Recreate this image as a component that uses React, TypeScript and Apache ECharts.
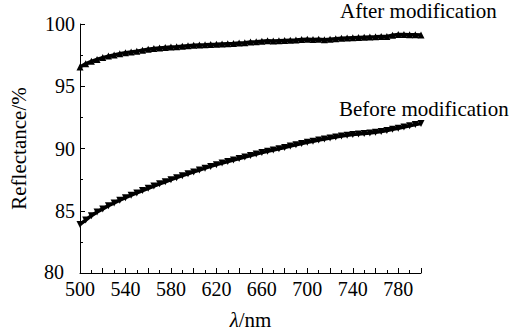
import React, { useEffect, useRef } from "react";
import * as echarts from "echarts";

const wavelengths = [
  500, 505, 510, 515, 520, 525, 530, 535, 540, 545, 550, 555, 560, 565, 570, 575,
  580, 585, 590, 595, 600, 605, 610, 615, 620, 625, 630, 635, 640, 645, 650, 655,
  660, 665, 670, 675, 680, 685, 690, 695, 700, 705, 710, 715, 720, 725, 730, 735,
  740, 745, 750, 755, 760, 765, 770, 775, 780, 785, 790, 795, 800,
];

const afterValues = [
  96.55, 96.8, 97.0, 97.15, 97.3, 97.42, 97.52, 97.62, 97.7, 97.76, 97.82, 97.9,
  97.97, 98.03, 98.08, 98.12, 98.15, 98.18, 98.22, 98.26, 98.3, 98.32, 98.33, 98.35,
  98.37, 98.4, 98.42, 98.44, 98.47, 98.5, 98.55, 98.58, 98.62, 98.65, 98.64, 98.66,
  98.68, 98.7, 98.72, 98.75, 98.77, 98.76, 98.78, 98.74, 98.78, 98.82, 98.85, 98.88,
  98.9, 98.92, 98.94, 98.96, 98.97, 98.99, 99.0, 99.1, 99.15, 99.15, 99.14, 99.13, 99.12,
];

const beforeValues = [
  83.9, 84.25, 84.6, 84.9, 85.15, 85.4, 85.62, 85.85, 86.05, 86.25, 86.43, 86.62,
  86.8, 86.98, 87.16, 87.33, 87.5, 87.66, 87.82, 87.97, 88.12, 88.27, 88.42, 88.56,
  88.7, 88.83, 88.96, 89.08, 89.2, 89.32, 89.44, 89.56, 89.67, 89.78, 89.88, 89.98,
  90.08, 90.2, 90.3, 90.4, 90.5, 90.58, 90.68, 90.77, 90.85, 90.93, 91.0, 91.06,
  91.12, 91.17, 91.21, 91.25, 91.3, 91.36, 91.45, 91.55, 91.63, 91.72, 91.82, 91.92, 92.0,
];

const seriesNames = ["After modification", "Before modification"];
const xLabelValues = [500, 540, 580, 620, 660, 700, 740, 780];
const yTicks = [80, 85, 90, 95, 100];

const FONT = "'Liberation Serif', 'Times New Roman', serif";

export default function App() {
  const ref = useRef<HTMLDivElement>(null);
  useEffect(() => {
    if (!ref.current) return;
    const chart = echarts.init(ref.current, undefined, { renderer: "svg" });
    const toPairs = (vals: number[]) => wavelengths.map((w, i) => [w, vals[i]]);
    chart.setOption({
      animation: false,
      backgroundColor: "#ffffff",
      grid: { left: 79, right: 89, top: 24, bottom: 56, containLabel: false },
      xAxis: {
        type: "value",
        min: 500,
        max: 800,
        interval: 20,
        name: "{i|λ}/nm",
        nameLocation: "middle",
        nameGap: 36,
        nameTextStyle: {
          fontFamily: FONT,
          fontSize: 21,
          color: "#000",
          rich: { i: { fontStyle: "italic", fontFamily: FONT, fontSize: 21, color: "#000" } },
        },
        axisLine: { show: true, onZero: false, lineStyle: { color: "#000", width: 1 } },
        axisTick: { show: true, inside: true, length: 5, lineStyle: { color: "#000", width: 1 } },
        minorTick: { show: true, splitNumber: 2, length: 3, lineStyle: { color: "#000", width: 1 } },
        splitLine: { show: false },
        minorSplitLine: { show: false },
        axisLabel: {
          margin: 9,
          fontFamily: FONT,
          fontSize: 20,
          lineHeight: 14,
          color: "#000",
          showMaxLabel: false,
          formatter: (v: number) => (xLabelValues.includes(v) ? String(v) : ""),
        },
      },
      yAxis: {
        type: "value",
        min: yTicks[0],
        max: yTicks[yTicks.length - 1],
        interval: 5,
        name: "Reflectance/%",
        nameLocation: "middle",
        nameGap: 51,
        nameTextStyle: { fontFamily: FONT, fontSize: 21, color: "#000" },
        axisLine: { show: true, onZero: false, lineStyle: { color: "#000", width: 1 } },
        axisTick: { show: true, inside: true, length: 5, lineStyle: { color: "#000", width: 1 } },
        minorTick: { show: true, splitNumber: 2, length: 3, lineStyle: { color: "#000", width: 1 } },
        splitLine: { show: false },
        minorSplitLine: { show: false },
        axisLabel: {
          margin: 5,
          fontFamily: FONT,
          fontSize: 20,
          lineHeight: 14,
          color: "#000",
          formatter: (v: number) => (v === yTicks[0] ? `{low|${v}}` : String(v)),
          rich: {
            low: { fontFamily: FONT, fontSize: 20, lineHeight: 14, color: "#000", padding: [0, 11, 3, 0] },
          },
        },
      },
      series: [
        {
          name: seriesNames[0],
          type: "line",
          data: toPairs(afterValues),
          symbol: "triangle",
          symbolSize: 7,
          showSymbol: true,
          itemStyle: { color: "#000" },
          lineStyle: { color: "#000", width: 3.5 },
          z: 3,
        },
        {
          name: seriesNames[1],
          type: "line",
          data: toPairs(beforeValues),
          symbol: "triangle",
          symbolRotate: 180,
          symbolSize: 7,
          showSymbol: true,
          itemStyle: { color: "#000" },
          lineStyle: { color: "#000", width: 3.5 },
          z: 3,
        },
      ],
      graphic: [
        {
          type: "text",
          left: 340,
          top: 0,
          style: { text: seriesNames[0], font: `21px ${FONT}`, fill: "#000" },
        },
        {
          type: "text",
          left: 339,
          top: 98,
          style: { text: seriesNames[1], font: `21px ${FONT}`, fill: "#000" },
        },
      ],
    });
    return () => chart.dispose();
  }, []);
  return <div ref={ref} style={{ width: 510, height: 335, position: "absolute", left: 0, top: 0 }} />;
}
